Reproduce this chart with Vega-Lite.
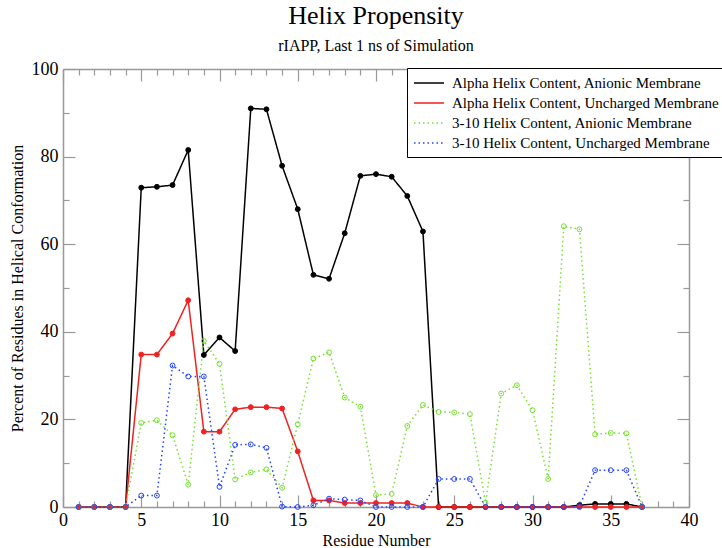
{
  "$schema": "https://vega.github.io/schema/vega-lite/v6.json",
  "width": 626,
  "height": 438,
  "autosize": {"type": "none"},
  "padding": {"left": 63, "top": 69, "right": 33, "bottom": 41},
  "background": "white",
  "title": {
    "text": "Helix Propensity",
    "subtitle": "rIAPP, Last 1 ns of Simulation",
    "font": "Liberation Serif",
    "fontSize": 26,
    "fontWeight": "normal",
    "color": "black",
    "subtitleFont": "Liberation Serif",
    "subtitleFontSize": 16,
    "subtitleColor": "black",
    "subtitlePadding": 9,
    "anchor": "middle",
    "offset": 6
  },
  "config": {
    "view": {"stroke": null},
    "font": "Liberation Serif",
    "title": {"font": "Liberation Serif", "subtitleFont": "Liberation Serif"},
    "legend": {"labelFont": "Liberation Serif"},
    "axis": {"labelFont": "Liberation Serif", "titleFont": "Liberation Serif"}
  },
  "data": {
    "values": [
      {"r": 1, "a": 0, "b": 0, "c": 0, "d": 0},
      {"r": 2, "a": 0, "b": 0, "c": 0, "d": 0},
      {"r": 3, "a": 0, "b": 0, "c": 0, "d": 0},
      {"r": 4, "a": 0, "b": 0, "c": 0, "d": 0},
      {"r": 5, "a": 72.9, "b": 34.8, "c": 19.2, "d": 2.6},
      {"r": 6, "a": 73.1, "b": 34.8, "c": 19.8, "d": 2.6},
      {"r": 7, "a": 73.5, "b": 39.6, "c": 16.4, "d": 32.3},
      {"r": 8, "a": 81.5, "b": 47.2, "c": 5.1, "d": 29.8},
      {"r": 9, "a": 34.7, "b": 17.2, "c": 37.9, "d": 29.8},
      {"r": 10, "a": 38.7, "b": 17.2, "c": 32.7, "d": 4.6},
      {"r": 11, "a": 35.6, "b": 22.3, "c": 6.3, "d": 14.2},
      {"r": 12, "a": 91.0, "b": 22.8, "c": 7.9, "d": 14.3},
      {"r": 13, "a": 90.8, "b": 22.8, "c": 8.6, "d": 13.5},
      {"r": 14, "a": 77.9, "b": 22.5, "c": 4.4, "d": 0.1},
      {"r": 15, "a": 68.0, "b": 12.7, "c": 18.9, "d": 0},
      {"r": 16, "a": 53.0, "b": 1.5, "c": 33.9, "d": 0.4},
      {"r": 17, "a": 52.1, "b": 1.5, "c": 35.3, "d": 1.9},
      {"r": 18, "a": 62.5, "b": 0.9, "c": 25.0, "d": 1.7},
      {"r": 19, "a": 75.6, "b": 0.9, "c": 22.9, "d": 1.5},
      {"r": 20, "a": 76.0, "b": 0.9, "c": 2.7, "d": 0},
      {"r": 21, "a": 75.4, "b": 0.9, "c": 3.0, "d": 0},
      {"r": 22, "a": 71.0, "b": 0.9, "c": 18.5, "d": 0},
      {"r": 23, "a": 62.9, "b": 0, "c": 23.3, "d": 0},
      {"r": 24, "a": 0, "b": 0, "c": 21.7, "d": 6.4},
      {"r": 25, "a": 0, "b": 0, "c": 21.6, "d": 6.4},
      {"r": 26, "a": 0, "b": 0, "c": 21.2, "d": 6.4},
      {"r": 27, "a": 0, "b": 0, "c": 1.0, "d": 0},
      {"r": 28, "a": 0, "b": 0, "c": 25.9, "d": 0},
      {"r": 29, "a": 0, "b": 0, "c": 27.8, "d": 0},
      {"r": 30, "a": 0, "b": 0, "c": 22.1, "d": 0},
      {"r": 31, "a": 0, "b": 0, "c": 6.4, "d": 0},
      {"r": 32, "a": 0, "b": 0, "c": 64.1, "d": 0},
      {"r": 33, "a": 0.4, "b": 0, "c": 63.4, "d": 0.2},
      {"r": 34, "a": 0.7, "b": 0, "c": 16.6, "d": 8.4},
      {"r": 35, "a": 0.7, "b": 0, "c": 16.9, "d": 8.4},
      {"r": 36, "a": 0.7, "b": 0, "c": 16.8, "d": 8.4},
      {"r": 37, "a": 0, "b": 0, "c": 0, "d": 0}
    ]
  },
  "transform": [{"fold": ["a", "b", "c", "d"], "as": ["s", "v"]}],
  "layer": [
    {
      "mark": {"type": "line", "strokeWidth": 1.5},
      "encoding": {
        "x": {
          "field": "r",
          "type": "quantitative",
          "scale": {"domain": [0, 40], "nice": false, "zero": false},
          "axis": {
            "orient": "bottom",
            "values": [0,1,2,3,4,5,6,7,8,9,10,11,12,13,14,15,16,17,18,19,20,21,22,23,24,25,26,27,28,29,30,31,32,33,34,35,36,37,38,39,40],
            "labelExpr": "datum.value % 5 === 0 ? datum.label : ''",
            "tickSize": {"condition": {"test": "datum.value % 5 === 0", "value": -12}, "value": -6},
            "grid": false,
            "domainColor": "#999999",
            "domainWidth": 1.5,
            "tickColor": "#999999",
            "tickWidth": 1.2,
            "labelFont": "Liberation Serif",
            "labelFontSize": 18,
            "labelColor": "black",
            "labelPadding": 16,
            "labelFlush": false,
            "labelOverlap": false,
            "title": "Residue Number",
            "titleFont": "Liberation Serif",
            "titleFontSize": 16,
            "titleFontWeight": "normal",
            "titleColor": "black",
            "titleBaseline": "alphabetic",
            "titleY": 38
          }
        },
        "y": {
          "field": "v",
          "type": "quantitative",
          "scale": {"domain": [0, 100], "nice": false},
          "axis": {
            "orient": "left",
            "values": [0,10,20,30,40,50,60,70,80,90,100],
            "labelExpr": "datum.value % 20 === 0 ? datum.label : ''",
            "tickSize": {"condition": {"test": "datum.value % 20 === 0", "value": -12}, "value": -6},
            "grid": false,
            "domainColor": "#999999",
            "domainWidth": 1.5,
            "tickColor": "#999999",
            "tickWidth": 1.2,
            "labelFont": "Liberation Serif",
            "labelFontSize": 18,
            "labelColor": "black",
            "labelPadding": 17,
            "labelFlush": false,
            "labelOverlap": false,
            "title": "Percent of Residues in Helical Conformation",
            "titleFont": "Liberation Serif",
            "titleFontSize": 16,
            "titleFontWeight": "normal",
            "titleColor": "black",
            "titlePadding": 6
          }
        },
        "color": {
          "field": "s",
          "type": "nominal",
          "scale": {"domain": ["a", "b", "c", "d"], "range": ["#000000", "#ee2222", "#77e030", "#2244ff"]},
          "legend": {
            "orient": "none",
            "legendX": 344,
            "legendY": -1,
            "title": null,
            "symbolType": "M-1,0H2.75",
            "symbolSize": 256,
            "symbolStrokeWidth": 1.5,
            "labelFont": "Liberation Serif",
            "labelFontSize": 15,
            "labelColor": "black",
            "labelLimit": 400,
            "labelOffset": 21,
            "strokeColor": "black",
            "fillColor": "white",
            "padding": 6,
            "rowPadding": 3,
            "cornerRadius": 0,
            "labelExpr": "datum.label === 'a' ? 'Alpha Helix Content, Anionic Membrane' : datum.label === 'b' ? 'Alpha Helix Content, Uncharged Membrane' : datum.label === 'c' ? '3-10 Helix Content, Anionic Membrane' : '3-10 Helix Content, Uncharged Membrane'"
          }
        },
        "strokeDash": {
          "field": "s",
          "type": "nominal",
          "scale": {"domain": ["a", "b", "c", "d"], "range": [[1, 0], [1, 0], [1.5, 3], [1.5, 3]]},
          "legend": {
            "orient": "none",
            "legendX": 344,
            "legendY": -1,
            "title": null,
            "symbolType": "M-1,0H2.75",
            "symbolSize": 256,
            "symbolStrokeWidth": 1.5,
            "labelFont": "Liberation Serif",
            "labelFontSize": 15,
            "labelColor": "black",
            "labelLimit": 400,
            "labelOffset": 21,
            "strokeColor": "black",
            "fillColor": "white",
            "padding": 6,
            "rowPadding": 3,
            "cornerRadius": 0,
            "labelExpr": "datum.label === 'a' ? 'Alpha Helix Content, Anionic Membrane' : datum.label === 'b' ? 'Alpha Helix Content, Uncharged Membrane' : datum.label === 'c' ? '3-10 Helix Content, Anionic Membrane' : '3-10 Helix Content, Uncharged Membrane'"
          }
        }
      }
    },
    {
      "mark": {"type": "point", "filled": false, "strokeWidth": 1, "opacity": 1, "size": 24},
      "encoding": {
        "x": {
          "field": "r",
          "type": "quantitative",
          "axis": {
            "orient": "top",
            "values": [0,1,2,3,4,5,6,7,8,9,10,11,12,13,14,15,16,17,18,19,20,21,22,23,24,25,26,27,28,29,30,31,32,33,34,35,36,37,38,39,40],
            "labels": false,
            "title": null,
            "tickSize": {"condition": {"test": "datum.value % 5 === 0", "value": -12}, "value": -6},
            "grid": false,
            "domainColor": "#999999",
            "domainWidth": 1.5,
            "tickColor": "#999999",
            "tickWidth": 1.2
          }
        },
        "y": {
          "field": "v",
          "type": "quantitative",
          "axis": {
            "orient": "right",
            "values": [0,10,20,30,40,50,60,70,80,90,100],
            "labels": false,
            "title": null,
            "tickSize": {"condition": {"test": "datum.value % 20 === 0", "value": -12}, "value": -6},
            "grid": false,
            "domainColor": "#999999",
            "domainWidth": 1.5,
            "tickColor": "#999999",
            "tickWidth": 1.2
          }
        },
        "color": {"field": "s", "type": "nominal", "legend": null},
        "fill": {
          "field": "s",
          "type": "nominal",
          "scale": {"domain": ["a", "b", "c", "d"], "range": ["#000000", "#ee2222", "transparent", "transparent"]},
          "legend": null
        }
      }
    }
  ],
  "resolve": {"axis": {"x": "independent", "y": "independent"}}
}
